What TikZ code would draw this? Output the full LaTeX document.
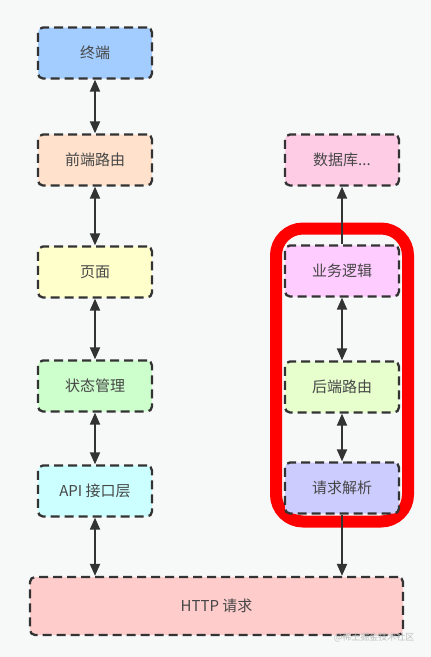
\documentclass[tikz,border=0pt]{standalone}
\usepackage{fontspec}
\newfontfamily\cjk{Noto Sans CJK SC}
\usetikzlibrary{arrows.meta,calc}
\definecolor{bg}{HTML}{F7F8F8}
\definecolor{edge}{HTML}{333333}
\definecolor{cTerm}{HTML}{A3CCFF}
\definecolor{cFront}{HTML}{FFE1CC}
\definecolor{cPage}{HTML}{FFFFCC}
\definecolor{cState}{HTML}{CCFFCC}
\definecolor{cApi}{HTML}{CCFFFF}
\definecolor{cHttp}{HTML}{FFCCCC}
\definecolor{cDb}{HTML}{FFCCE6}
\definecolor{cBiz}{HTML}{FFCCFF}
\definecolor{cBack}{HTML}{E6FFCC}
\definecolor{cParse}{HTML}{CCCCFF}
\definecolor{hl}{HTML}{FF0000}
\tikzset{
  box/.style={draw=edge, line width=2.3pt, dash pattern=on 9pt off 5pt, rounded corners=5pt,
    minimum width=114pt, minimum height=51pt, inner sep=0pt, font=\cjk\fontsize{15}{17}\selectfont,
    text=edge!90},
  biarrow/.style={draw=edge, line width=2pt, {Triangle[length=12pt,width=10pt]}-{Triangle[length=12pt,width=10pt]}},
  uniarrow/.style={draw=edge, line width=2pt, -{Triangle[length=12pt,width=10pt]}},
}
\begin{document}
\begin{tikzpicture}[x=1pt,y=-1pt]
\fill[bg] (0,0) rectangle (431,657);
\useasboundingbox (0,0) rectangle (431,657);
% highlight frame
\draw[hl, line width=12pt, rounded corners=27pt] (276,228.5) rectangle (408,521.5);
% left column
\node[box, fill=cTerm]  (term)  at (95,53)  {终端};
\node[box, fill=cFront] (front) at (95,160) {前端路由};
\node[box, fill=cPage]  (page)  at (95,272) {页面};
\node[box, fill=cState] (state) at (95,386) {状态管理};
\node[box, fill=cApi]   (api)   at (95,491) {API 接口层};
% right column
\node[box, fill=cDb]    (db)    at (342,160) {数据库...};
\node[box, fill=cBiz]   (biz)   at (342,271) {业务逻辑};
\node[box, fill=cBack]  (back)  at (342,387) {后端路由};
\node[box, fill=cParse] (parse) at (342,488) {请求解析};
% bottom
\node[box, fill=cHttp, minimum width=373pt, minimum height=58pt] (http) at (216.5,606) {HTTP 请求};
% connectors
\draw[biarrow] (term) -- (front);
\draw[biarrow] (front) -- (page);
\draw[biarrow] (page) -- (state);
\draw[biarrow] (state) -- (api);
\draw[biarrow] (api) -- (api |- http.north);
\draw[uniarrow] (biz) -- (db);
\draw[biarrow] (biz) -- (back);
\draw[biarrow] (back) -- (parse);
\draw[uniarrow] (parse) -- (parse |- http.north);
% watermark
\node[font=\cjk\fontsize{9}{10}\selectfont, text=black!25, anchor=east] (wm) at (418,637) {@稀土掘金技术社区};
\end{tikzpicture}
\end{document}
